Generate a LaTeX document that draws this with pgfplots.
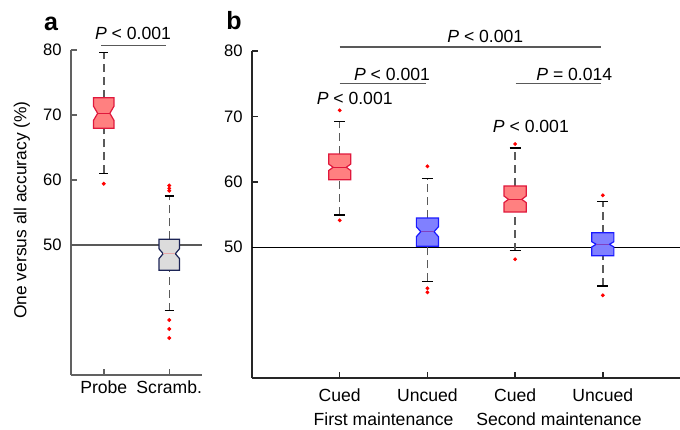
\documentclass[border=0pt]{standalone}
\usepackage{pgfplots}
\pgfplotsset{compat=1.18}
\usepackage{fontspec}
\setmainfont{Liberation Sans}

\definecolor{redfill}{HTML}{FF8080}
\definecolor{rededge}{HTML}{E0183C}
\definecolor{bluefill}{HTML}{8080FF}
\definecolor{blueedge}{HTML}{1A1AFF}
\definecolor{bluemed}{HTML}{8040C0}
\definecolor{grayfill}{HTML}{DCDCDC}
\definecolor{grayedge}{HTML}{1C2456}
\definecolor{graymed}{HTML}{E8A8A8}
\definecolor{whisk}{HTML}{5A5A5A}

\newcommand{\lbl}{\fontsize{8.8pt}{10pt}\selectfont}
\newcommand{\pv}[1]{\lbl{\itshape P} #1}

% notched box: x, q1, median, q3, notch half height, box half width, fill, edge, median colour
\newcommand{\nbox}[9]{%
  \pgfmathsetmacro\xl{#1-#6}\pgfmathsetmacro\xr{#1+#6}%
  \pgfmathsetmacro\xli{#1-0.6*#6}\pgfmathsetmacro\xri{#1+0.6*#6}%
  \pgfmathsetmacro\nlo{#3-#5}\pgfmathsetmacro\nhi{#3+#5}%
  \edef\tmp{\noexpand\addplot[fill=#7, draw=#8, line width=0.6pt, line join=miter]
    coordinates {(\xl,#2) (\xl,\nlo) (\xli,#3) (\xl,\nhi) (\xl,#4) (\xr,#4) (\xr,\nhi) (\xri,#3) (\xr,\nlo) (\xr,#2)} -- cycle;}\tmp
  \edef\tmp{\noexpand\addplot[draw=#9, line width=0.6pt] coordinates {(\xli,#3) (\xri,#3)};}\tmp
}
% whiskers: x, low whisker, q1, q3, high whisker, cap half width
\newcommand{\whisk}[6]{%
  \pgfmathsetmacro\cl{#1-#6}\pgfmathsetmacro\cr{#1+#6}%
  \edef\tmp{\noexpand\addplot[whisk, line width=0.75pt, dash pattern=on 4pt off 2.5pt] coordinates {(#1,#2) (#1,#3)};}\tmp
  \edef\tmp{\noexpand\addplot[whisk, line width=0.75pt, dash pattern=on 4pt off 2.5pt] coordinates {(#1,#4) (#1,#5)};}\tmp
  \edef\tmp{\noexpand\addplot[black, line width=0.65pt] coordinates {(\cl,#2) (\cr,#2)};}\tmp
  \edef\tmp{\noexpand\addplot[black, line width=0.65pt] coordinates {(\cl,#5) (\cr,#5)};}\tmp
}

\pgfplotsset{
  panel/.style={
    scale only axis, clip=false,
    axis x line*=bottom, axis y line*=left,
    axis line style={-},
    ymin=30, ymax=80, ytick={50,60,70,80},
    tick align=inside, major tick length=3pt,
    /pgf/number format/assume math mode=true,
    yticklabel style={font=\fontsize{8.3pt}{9pt}\selectfont, anchor=east, inner sep=0pt, xshift=-4.5pt},
    xticklabel style={font=\lbl, anchor=base, inner sep=0pt},
  },
}

\begin{document}
\begin{tikzpicture}
\useasboundingbox (0,0) rectangle (340pt,214.5pt);

% ---------- panel a ----------
\begin{axis}[panel,
  at={(35.5pt,27pt)}, anchor=south west,
  width=65.5pt, height=162.5pt,
  xmin=0.5, xmax=2.5, xtick={1,2}, xticklabels={Probe,Scramb.},
  xticklabel style={yshift=-9.2pt},
  axis line style={black!62, line width=0.75pt},
  tick style={black!62, line width=0.75pt},
]
\addplot[black!65, line width=0.7pt] coordinates {(0.5,50) (2.5,50)};
% Probe
\whisk{1}{61.03}{67.95}{72.66}{79.58}{0.072}
\nbox{1}{67.95}{70.26}{72.66}{1.07}{0.155}{redfill}{rededge}{rededge}
\addplot[only marks, mark=*, mark size=0.75pt, red] coordinates {(1,59.43)};
% Scrambled
\whisk{2}{39.89}{46.11}{50.88}{57.54}{0.072}
\nbox{2}{46.11}{48.66}{50.88}{0.74}{0.155}{grayfill}{grayedge}{graymed}
\addplot[only marks, mark=*, mark size=0.75pt, red] coordinates {
  (2,59.15) (2,58.72) (2,58.34) (2,38.46) (2,37.08) (2,35.69)};
% significance
\draw[black!65, line width=0.7pt] (axis cs:0.958,80.66) -- (axis cs:1.946,80.66);
\node[anchor=base] at (axis cs:1.447,81.54) {\pv{< 0.001}};
\end{axis}

% y label of panel a
\node[rotate=90, font=\fontsize{8.7pt}{10pt}\selectfont] at (11pt,109.5pt) {One versus all accuracy (\%)};

% ---------- panel b ----------
\begin{axis}[panel,
  at={(126pt,25.5pt)}, anchor=south west,
  width=214pt, height=163.5pt,
  xmin=0, xmax=4.88, xtick={1,2,3,4}, xticklabels={Cued,Uncued,Cued,Uncued},
  xticklabel style={yshift=-11.5pt},
  axis line style={black!85, line width=0.7pt},
  tick style={black!85, line width=0.7pt},
]
\addplot[black, line width=0.6pt] coordinates {(0,50) (4.88,50)};
% first maintenance, cued
\whisk{1}{54.92}{60.32}{64.25}{69.25}{0.063}
\nbox{1}{60.32}{62.22}{64.25}{0.5}{0.126}{redfill}{rededge}{rededge}
\addplot[only marks, mark=*, mark size=0.75pt, red] coordinates {(1,70.93) (1,54.11)};
% first maintenance, uncued
\whisk{2}{44.79}{50.14}{54.46}{60.47}{0.063}
\nbox{2}{50.14}{52.37}{54.46}{0.76}{0.126}{bluefill}{blueedge}{bluemed}
\addplot[only marks, mark=*, mark size=0.75pt, red] coordinates {(2,62.37) (2,43.72) (2,43.10)};
% second maintenance, cued
\whisk{3}{49.47}{55.38}{59.36}{65.17}{0.063}
\nbox{3}{55.38}{57.32}{59.36}{0.5}{0.126}{redfill}{rededge}{rededge}
\addplot[only marks, mark=*, mark size=0.75pt, red] coordinates {(3,65.78) (3,48.15)};
% second maintenance, uncued
\whisk{4}{44.07}{48.70}{52.22}{57.02}{0.063}
\nbox{4}{48.70}{50.44}{52.22}{0.4}{0.126}{bluefill}{blueedge}{bluemed}
\addplot[only marks, mark=*, mark size=0.75pt, red] coordinates {(4,57.94) (4,42.65)};
% group labels
\node[anchor=base, font=\lbl] at (axis cs:1.5,30) [yshift=-23.5pt] {First maintenance};
\node[anchor=base, font=\lbl] at (axis cs:3.5,30) [yshift=-23.5pt] {Second maintenance};
% significance
\draw[black!65, line width=0.7pt] (axis cs:1,80.61) -- (axis cs:3.98,80.61);
\node[anchor=base] at (axis cs:2.66,81.33) {\pv{< 0.001}};
\draw[black!65, line width=0.7pt] (axis cs:1,75.0) -- (axis cs:1.98,75.0);
\node[anchor=base] at (axis cs:1.596,75.46) {\pv{< 0.001}};
\draw[black!65, line width=0.7pt] (axis cs:3.007,75.0) -- (axis cs:3.98,75.0);
\node[anchor=base] at (axis cs:3.675,75.46) {\pv{= 0.014}};
\node[anchor=base] at (axis cs:1.171,71.85) {\pv{< 0.001}};
\node[anchor=base] at (axis cs:3.18,67.51) {\pv{< 0.001}};
\end{axis}

% panel letters
\node[anchor=base, font=\fontsize{12.5pt}{14pt}\selectfont\bfseries] at (25.5pt,199pt) {a};
\node[anchor=base, font=\fontsize{12.5pt}{14pt}\selectfont\bfseries] at (117pt,199.5pt) {b};
\end{tikzpicture}
\end{document}
